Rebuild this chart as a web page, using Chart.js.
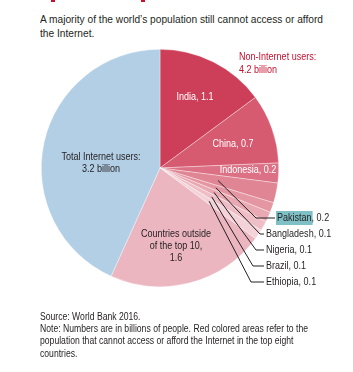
<!DOCTYPE html>
<html><head><meta charset="utf-8">
<script src="https://cdn.jsdelivr.net/npm/chart.js@4/dist/chart.umd.min.js"></script>
<style>
html,body{margin:0;padding:0;background:#fff;width:353px;height:372px;overflow:hidden;}
body{position:relative;font-family:"Liberation Sans",Arial,sans-serif;color:#231f20;}
#wrap{position:absolute;left:0;top:0;width:353px;height:372px;}
.t{position:absolute;left:40px;white-space:nowrap;transform-origin:0 0;}
.mk{position:absolute;top:0;height:2px;background:#c8102e;}
</style></head><body>
<div class="mk" style="left:51px;width:4px"></div>
<div class="mk" style="left:141px;width:4px"></div>
<div id="title" class="t" style="top:13px;font-size:11.5px;line-height:13.5px"><span id="tl">A majority of the world’s population still cannot access or afford</span><br>the Internet.</div>
<div id="wrap"><canvas id="c" width="353" height="372"></canvas></div>
<div id="note" class="t" style="top:311px;font-size:10px;line-height:12.2px">Source: World Bank 2016.<br><span id="nl">Note: Numbers are in billions of people. Red colored areas refer to the</span><br>population that cannot access or afford the Internet in the top eight<br>countries.</div>
<script>
const categories = ["India","China","Indonesia","Pakistan","Bangladesh","Nigeria","Brazil","Ethiopia","Countries outside of the top 10","Total Internet users"];
const values = [1.1,0.7,0.2,0.2,0.1,0.1,0.1,0.1,1.6,3.2];
const colors = ["#cd3f58","#d65a70","#dc7185","#e08594","#e596a3","#e9a9b3","#eebdc5","#f3d2d8","#ebb6c0","#b3cfe6"];

// fit condensed text widths to the reference line lengths
function fit(boxId, spanId, target){
  const w = document.getElementById(spanId).getBoundingClientRect().width;
  document.getElementById(boxId).style.transform = 'scaleX(' + (target / w) + ')';
}
fit('title','tl',283);
fit('note','nl',268);

const FONT = '"Liberation Sans",Arial,sans-serif';
const SX = 0.82;
const insideLabels = [
  {i:0, text:"India, 1.1", x:195, y:97},
  {i:1, text:"China, 0.7", x:233, y:144},
  {i:2, text:"Indonesia, 0.2", x:248, y:170}
];
const outsideLabels = [
  {i:3, name:"Pakistan", val:", 0.2", x:277, y:218, bend:256},
  {i:4, name:"Bangladesh", val:", 0.1", x:266, y:234, bend:260},
  {i:5, name:"Nigeria", val:", 0.1", x:266, y:250, bend:256},
  {i:6, name:"Brazil", val:", 0.1", x:266, y:266, bend:253},
  {i:7, name:"Ethiopia", val:", 0.1", x:266, y:282, bend:251}
];

function txt(ctx, s, x, y, align){
  ctx.save();
  ctx.translate(x, y);
  ctx.scale(SX, 1);
  ctx.textAlign = align || 'left';
  ctx.fillText(s, 0, 0);
  ctx.restore();
}

const labelPlugin = {
  id:'labels',
  afterDatasetsDraw(chart){
    const ctx = chart.ctx;
    const meta = chart.getDatasetMeta(0);
    ctx.save();
    ctx.textBaseline = 'middle';
    ctx.font = '11px ' + FONT;
    ctx.fillStyle = '#ffffff';
    insideLabels.forEach(l => txt(ctx, l.text, l.x, l.y, 'center'));
    ctx.fillStyle = '#c8102e';
    txt(ctx, "Non-Internet users:", 239, 57);
    txt(ctx, "4.2 billion", 239, 70);
    ctx.fillStyle = '#231f20';
    txt(ctx, "Total Internet users:", 101, 157, 'center');
    txt(ctx, "3.2 billion", 101, 169, 'center');
    txt(ctx, "Countries outside", 176, 234, 'center');
    txt(ctx, "of the top 10,", 176, 246, 'center');
    txt(ctx, "1.6", 176, 258, 'center');
    outsideLabels.forEach(l => {
      const arc = meta.data[l.i];
      const mid = (arc.startAngle + arc.endAngle) / 2;
      const r = arc.outerRadius * 0.5;
      const sx = arc.x + Math.cos(mid) * r;
      const sy = arc.y + Math.sin(mid) * r;
      ctx.strokeStyle = '#231f20';
      ctx.lineWidth = 1;
      ctx.beginPath();
      ctx.moveTo(sx, sy);
      ctx.lineTo(l.bend, l.y);
      ctx.lineTo(l.x - 2, l.y);
      ctx.stroke();
      const w = ctx.measureText(l.name).width * SX;
      if (l.name === "Pakistan") {
        ctx.fillStyle = '#7fc0c6';
        ctx.fillRect(l.x - 1, l.y - 7, w + 2, 14);
      }
      ctx.fillStyle = '#231f20';
      txt(ctx, l.name, l.x, l.y);
      txt(ctx, l.val, l.x + w, l.y);
    });
    ctx.restore();
  }
};

new Chart(document.getElementById('c'), {
  type:'pie',
  data:{labels:categories, datasets:[{data:values, backgroundColor:colors, borderColor:'rgba(255,255,255,0.6)', borderWidth:0.6}]},
  options:{
    responsive:false, animation:false, events:[],
    layout:{padding:{left:41,top:49,right:74,bottom:85}},
    plugins:{legend:{display:false}, tooltip:{enabled:false}}
  },
  plugins:[labelPlugin]
});
</script>
</body></html>
